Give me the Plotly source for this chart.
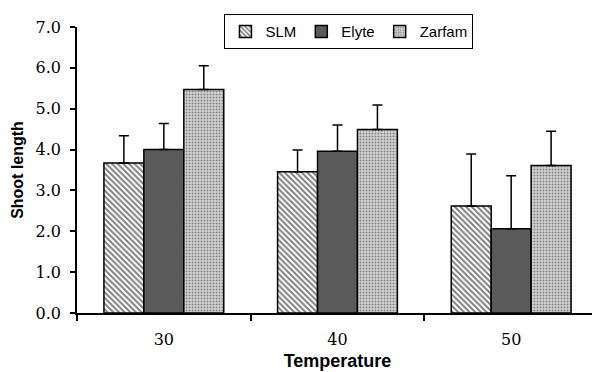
import plotly.graph_objects as go

categories = ["30", "40", "50"]
slm = [3.67, 3.46, 2.62]
slm_err = [0.67, 0.53, 1.27]
elyte = [4.00, 3.96, 2.06]
elyte_err = [0.64, 0.64, 1.30]
zarfam = [5.47, 4.49, 3.61]
zarfam_err = [0.58, 0.60, 0.84]
y_ticks = [0, 1, 2, 3, 4, 5, 6, 7]

SERIF = "DejaVu Serif"
SANS = "Liberation Sans, Arial, sans-serif"

def err(vals):
    return dict(type="data", array=vals, arrayminus=[0]*len(vals), symmetric=False,
                color="black", thickness=1.5, width=5)

fig = go.Figure()
fig.add_trace(go.Bar(name="SLM", x=categories, y=slm, error_y=err(slm_err),
                     marker=dict(color="white", line=dict(color="black", width=1.5),
                                 pattern=dict(shape="\\", fgcolor="black", bgcolor="white",
                                              size=4, solidity=0.5))))
fig.add_trace(go.Bar(name="Elyte", x=categories, y=elyte, error_y=err(elyte_err),
                     marker=dict(color="#5a5a5a", line=dict(color="black", width=1.5))))
fig.add_trace(go.Bar(name="Zarfam", x=categories, y=zarfam, error_y=err(zarfam_err),
                     marker=dict(color="#c0c0c0", line=dict(color="black", width=1.5),
                                 pattern=dict(shape=".", fgcolor="#303030", bgcolor="#d4d4d4",
                                              size=3, solidity=0.35))))

# page body adds an 8px margin, so the figure is sized/offset to compensate
fig.update_layout(
    width=592, height=364,
    margin=dict(l=69, r=2, t=19, b=59),
    plot_bgcolor="white", paper_bgcolor="white",
    barmode="group", bargap=0.31, bargroupgap=0,
    font=dict(family=SERIF, size=16, color="black"),
    legend=dict(orientation="h", x=0.522, xanchor="center", y=1.045, yanchor="top",
                bordercolor="black", borderwidth=1, bgcolor="white",
                font=dict(family=SANS, size=15), itemwidth=30,
                tracegroupgap=0),
    xaxis=dict(showline=True, linecolor="black", linewidth=1.5, ticks="outside",
               tickson="boundaries", ticklen=6, tickcolor="black", tickwidth=1.5,
               ticklabelstandoff=11, tickfont=dict(family=SERIF, size=16),
               title=dict(text="<b>Temperature</b>", standoff=6,
                          font=dict(family=SANS, size=18))),
    yaxis=dict(range=[0, 7], tickvals=y_ticks, tickformat=".1f", showgrid=False,
               showline=True, linecolor="black", linewidth=1.5, ticks="outside",
               ticklen=5, tickcolor="black", tickwidth=1.5, zeroline=False,
               ticklabelstandoff=6, tickfont=dict(family=SERIF, size=16),
               title=dict(text="<b>Shoot length</b>", standoff=8,
                          font=dict(family=SANS, size=16))),
)

fig.write_html("out.html")
